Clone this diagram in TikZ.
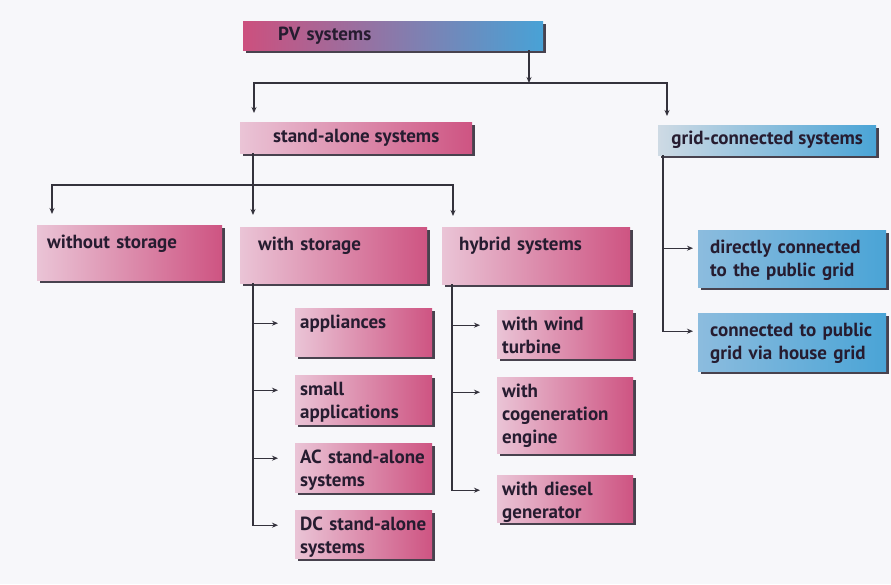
\documentclass[tikz,border=0pt]{standalone}
\usepackage{fontspec}
\setmainfont{PT Sans}
\usetikzlibrary{shadows,arrows.meta}
\definecolor{pvpink}{RGB}{204,80,126}
\definecolor{pvblue}{RGB}{72,162,214}
\definecolor{pinkL}{RGB}{234,196,214}
\definecolor{pinkR}{RGB}{206,84,130}
\definecolor{blueL}{RGB}{206,218,228}
\definecolor{blueR}{RGB}{74,164,214}
\definecolor{blueM}{RGB}{140,188,222}
\definecolor{txt}{RGB}{38,28,48}
\definecolor{ln}{RGB}{52,50,60}
\definecolor{shd}{RGB}{72,66,78}
\definecolor{bg}{RGB}{247,247,250}
\begin{document}
\begin{tikzpicture}[x=1pt,y=-1pt,
	head/.style={rectangle, anchor=north west, inner ysep=0pt, font=\bfseries\fontsize{19}{23}\selectfont, text=txt, general shadow={fill=shd, shadow xshift=3pt, shadow yshift=-3pt}},
	leaf/.style={head, align=left, inner ysep=5pt, text height=15pt},
	pinkbox/.style={left color=pinkL, right color=pinkR},
	bluebox/.style={left color=blueM, right color=blueR},
	arr/.style={draw=ln, line width=1.3pt, -{Stealth[length=6pt,width=5pt]}}]
	\fill[bg] (0,0) rectangle (891,584);
	\useasboundingbox (0,0) rectangle (891,584);
	\node[head, left color=pvpink, right color=pvblue, align=left, inner xsep=35pt, text width=230pt, minimum height=29pt] (pv) at (243,21) {PV systems};
	\node[head, pinkbox, minimum width=232pt, minimum height=31pt] (sa) at (240,122) {stand-alone systems};
	\node[head, left color=blueL, right color=blueR, minimum width=218pt, minimum height=30pt] (gc) at (658,125) {grid-connected systems};
	\node[leaf, pinkbox, inner xsep=10pt, inner ysep=8pt, text width=165pt, text depth=24pt] (wo) at (37,225) {without storage};
	\node[leaf, pinkbox, inner xsep=18pt, inner ysep=8pt, text width=151pt, text depth=25pt] (ws) at (240,227) {with storage};
	\node[leaf, pinkbox, inner xsep=17pt, inner ysep=8pt, text width=154pt, text depth=26pt] (hy) at (442,227) {hybrid systems};
	\node[leaf, pinkbox, inner xsep=5pt, text width=127pt, text depth=23pt] (app) at (295,308) {appliances};
	\node[leaf, pinkbox, inner xsep=5pt, text width=127pt, text depth=24pt] (small) at (295,375) {small\\applications};
	\node[leaf, pinkbox, inner xsep=5pt, text width=127pt, text depth=24pt] (ac) at (295,443) {AC stand-alone\\systems};
	\node[leaf, pinkbox, inner xsep=5pt, text width=127pt, text depth=23pt] (dc) at (295,510) {DC stand-alone\\systems};
	\node[leaf, pinkbox, inner xsep=5pt, text width=126pt, text depth=23pt] (wind) at (497,310) {with wind\\turbine};
	\node[leaf, pinkbox, inner xsep=5pt, text width=126pt, text depth=51pt] (cog) at (497,377) {with\\cogeneration\\engine};
	\node[leaf, pinkbox, inner xsep=5pt, text width=126pt, text depth=22pt] (diesel) at (497,475) {with diesel\\generator};
	\node[leaf, bluebox, inner xsep=12pt, inner ysep=8pt, text width=164pt, text depth=26pt] (direct) at (698,230) {directly connected\\to the public grid};
	\node[leaf, bluebox, inner xsep=12pt, inner ysep=8pt, text width=164pt, text depth=27pt] (via) at (698,313) {connected to public\\grid via house grid};
	\coordinate (top) at (529,83);
	\coordinate (mid) at (253,185);
	\draw[arr] (pv.south -| top) -- (top);
	\draw[arr] (top) -| ([xshift=14pt,yshift=9pt]sa.north west);
	\draw[arr] (top) -| ([xshift=9pt,yshift=9pt]gc.north west);
	\draw[arr] ([xshift=13pt]sa.south west) -- ([xshift=13pt,yshift=12pt]ws.north west);
	\draw[arr] (mid) -| ([xshift=15pt,yshift=11pt]wo.north west);
	\draw[arr] (mid) -| ([xshift=11pt,yshift=11pt]hy.north west);
	\foreach \n in {app,small,ac,dc}
		\draw[arr] ([xshift=13pt]ws.south west) |- ([xshift=-17pt,yshift=5pt]\n.base west);
	\foreach \n in {wind,cog,diesel}
		\draw[arr] ([xshift=10pt]hy.south west) |- ([xshift=-17pt,yshift=5pt]\n.base west);
	\foreach \n in {direct,via}
		\draw[arr] ([xshift=5pt]gc.south west) |- ([xshift=-5pt,yshift=5pt]\n.base west);
\end{tikzpicture}
\end{document}
